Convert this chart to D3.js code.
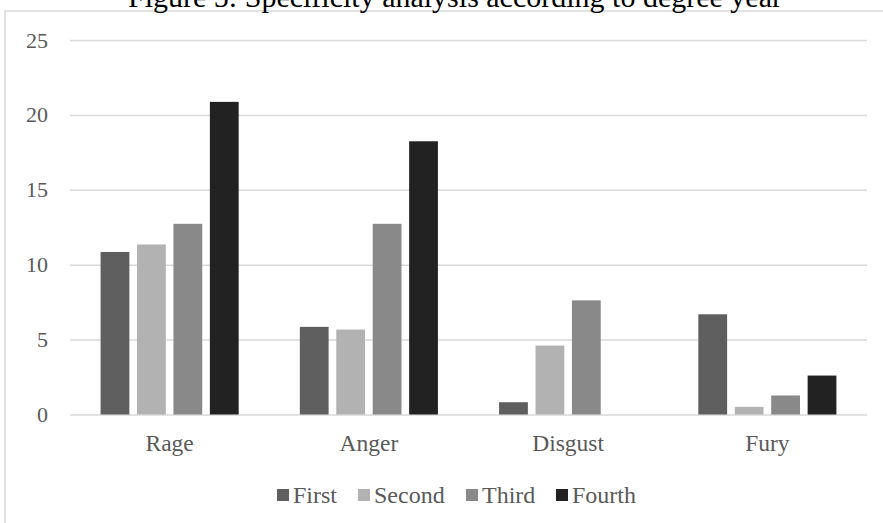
<!DOCTYPE html>
<html>
<head>
<meta charset="utf-8">
<script src="https://cdn.jsdelivr.net/npm/d3@7"></script>
<style>
  html, body { margin: 0; padding: 0; background: #fff; }
  svg, svg text { font-family: "Liberation Serif", "Times New Roman", "DejaVu Serif", serif; }
</style>
</head>
<body>
<svg id="chart" width="883" height="523"></svg>
<script>
// Emotion categories and the share per degree year
const categories = ["Rage", "Anger", "Disgust", "Fury"];
const seriesNames = ["First", "Second", "Third", "Fourth"];
const first  = [10.85, 5.85, 0.82, 6.69];
const second = [11.35, 5.67, 4.6, 0.51];
const third  = [12.73, 12.73, 7.62, 1.27];
const fourth = [20.87, 18.24, 0, 2.6];
const yTicks = [0, 5, 10, 15, 20, 25];
const colors = ["#5f5f5f", "#b2b2b2", "#898989", "#222222"];

const series = [first, second, third, fourth];
const rows = categories.map((c, i) => ({
  category: c,
  values: seriesNames.map((s, j) => ({ key: s, value: series[j][i] }))
}));

const svg = d3.select("#chart");
const plot = { left: 70, right: 867, top: 40, bottom: 414.5 };
const serif = "'Liberation Serif', 'Times New Roman', serif";

// outer chart frame
svg.append("rect")
  .attr("x", 5).attr("y", 11)
  .attr("width", 900).attr("height", 600)
  .attr("fill", "none").attr("stroke", "#d9d9d9").attr("stroke-width", 1.5);

// title, sitting just above the frame
svg.append("text")
  .attr("x", 455).attr("y", 7)
  .attr("text-anchor", "middle")
  .style("font-family", serif)
  .style("font-size", "30px").attr("fill", "#000")
  .text("Figure 5: Specificity analysis according to degree year");

const y = d3.scaleLinear().domain([0, 25]).range([plot.bottom, plot.top]);
const x0 = d3.scaleBand().domain(categories).range([plot.left, plot.right])
  .paddingInner(0.307).paddingOuter(0.1535);
const x1 = d3.scaleBand().domain(seriesNames).range([0, x0.bandwidth()])
  .paddingInner(0.21).paddingOuter(0);

// gridlines and y labels
const yAxis = d3.axisLeft(y).tickValues(yTicks).tickSize(-(plot.right - plot.left)).tickPadding(22);
const gy = svg.append("g").attr("transform", `translate(${plot.left},0)`).call(yAxis);
gy.attr("font-family", null).attr("font-size", null);
gy.select(".domain").remove();
gy.selectAll(".tick line").attr("stroke", "#d9d9d9").attr("stroke-width", 1.5);
gy.selectAll(".tick text").style("font-size", "22px").style("font-family", serif).attr("fill", "#595959");

// bars
const groups = svg.append("g").selectAll("g").data(rows).join("g")
  .attr("transform", d => `translate(${x0(d.category)},0)`);
groups.selectAll("rect").data(d => d.values).join("rect")
  .attr("x", d => x1(d.key))
  .attr("y", d => y(d.value))
  .attr("width", x1.bandwidth())
  .attr("height", d => y(0) - y(d.value))
  .attr("fill", (d, i) => colors[i]);

// category labels
const xAxis = d3.axisBottom(x0).tickSize(0).tickPadding(20);
const gx = svg.append("g").attr("transform", `translate(0,${plot.bottom})`).call(xAxis);
gx.attr("font-family", null).attr("font-size", null);
gx.select(".domain").remove();
gx.selectAll(".tick text").style("font-size", "23.5px").style("font-family", serif).attr("fill", "#595959");

// legend
const legendItems = [
  { name: "First", sx: 277 },
  { name: "Second", sx: 358 },
  { name: "Third", sx: 466 },
  { name: "Fourth", sx: 556 }
];
const lg = svg.append("g");
legendItems.forEach((it, i) => {
  lg.append("rect").attr("x", it.sx).attr("y", 489).attr("width", 12).attr("height", 12)
    .attr("fill", colors[i]);
  lg.append("text").attr("x", it.sx + 16).attr("y", 503)
    .style("font-family", serif)
    .style("font-size", "24px").attr("fill", "#595959").text(it.name);
});
</script>
</body>
</html>
